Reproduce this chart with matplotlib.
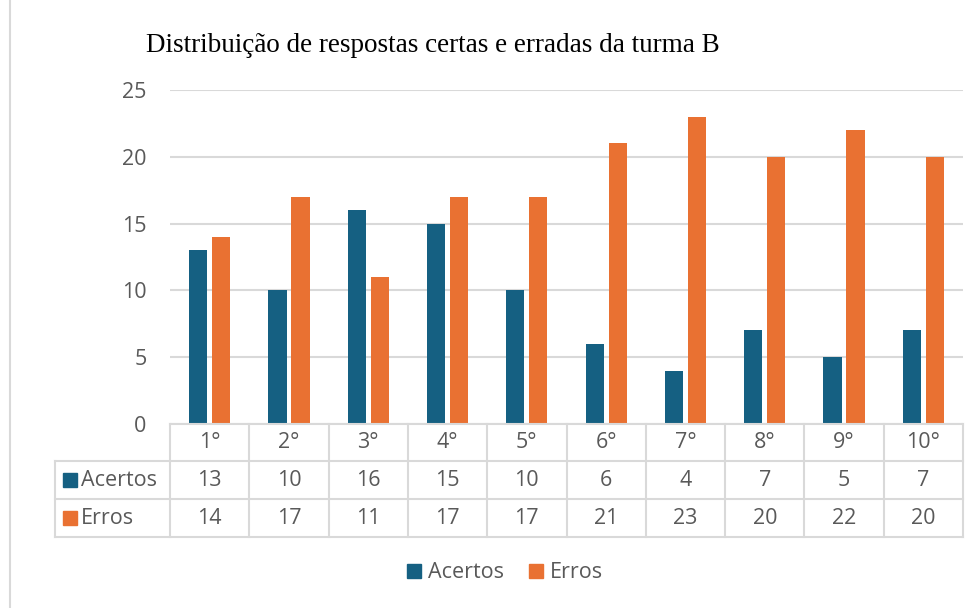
import matplotlib.pyplot as plt
from matplotlib.patches import Patch
from matplotlib.lines import Line2D
import matplotlib.transforms as mtransforms

# Data
categorias = ['1°', '2°', '3°', '4°', '5°', '6°', '7°', '8°', '9°', '10°']
acertos = [13, 10, 16, 15, 10, 6, 4, 7, 5, 7]
erros = [14, 17, 11, 17, 17, 21, 23, 20, 22, 20]
series = ['Acertos', 'Erros']

azul = '#156082'
laranja = '#E97132'
cinza_txt = '#595959'
cinza_lin = '#D9D9D9'

plt.rcParams['font.family'] = ['Open Sans', 'DejaVu Sans']
fs = 15.5

W, H = 978, 608
fig = plt.figure(figsize=(W / 100, H / 100), dpi=100)

# plot area in pixels: x 170..963, y 90..424 (top..bottom)
ax = fig.add_axes([170 / W, (H - 424) / H, 793 / W, 334 / H])

x = list(range(len(categorias)))
bw = 0.23
off = 0.145
ax.bar([i - off for i in x], acertos, width=bw, color=azul, label='Acertos', zorder=3)
ax.bar([i + off for i in x], erros, width=bw, color=laranja, label='Erros', zorder=3)

ax.set_xlim(-0.5, len(categorias) - 0.5)
ax.set_ylim(0, 25)
ax.set_yticks([0, 5, 10, 15, 20, 25])
ax.tick_params(axis='y', length=0, pad=17, labelsize=fs, labelcolor=cinza_txt)
ax.set_xticks([])
ax.grid(axis='y', color=cinza_lin, linewidth=1.5, zorder=0)
for s in ax.spines.values():
    s.set_visible(False)

# data table below the axes (x in data coords, y in figure pixels)
tr = mtransforms.blended_transform_factory(ax.transData, mtransforms.IdentityTransform())
def fy(py):
    return H - py

rows_y = [424, 461, 499, 537]
x_left = -0.5 - (170 - 55) / (793 / len(categorias))
x_right = len(categorias) - 0.5
lkw = dict(color=cinza_lin, linewidth=1.5, transform=tr, clip_on=False)

# horizontal lines
fig.add_artist(Line2D([-0.5, x_right], [fy(rows_y[0])] * 2, **lkw))
for py in rows_y[1:]:
    fig.add_artist(Line2D([x_left, x_right], [fy(py)] * 2, **lkw))
# vertical lines
fig.add_artist(Line2D([x_left, x_left], [fy(rows_y[1]), fy(rows_y[3])], **lkw))
for k in range(len(categorias) + 1):
    xv = k - 0.5
    fig.add_artist(Line2D([xv, xv], [fy(rows_y[0]), fy(rows_y[3])], **lkw))

tkw = dict(transform=tr, ha='center', va='center', fontsize=fs, color=cinza_txt)
for i, c in enumerate(categorias):
    fig.text(i, fy((rows_y[0] + rows_y[1]) / 2), c, **tkw)
    fig.text(i, fy((rows_y[1] + rows_y[2]) / 2), str(acertos[i]), **tkw)
    fig.text(i, fy((rows_y[2] + rows_y[3]) / 2), str(erros[i]), **tkw)

# row labels with colour keys
for r, (nome, cor) in enumerate(zip(series, [azul, laranja])):
    yc = (rows_y[r + 1] + rows_y[r + 2]) / 2
    fig.patches.append(plt.Rectangle((63, fy(yc) - 7), 14, 14, color=cor,
                                     transform=None, figure=fig))
    fig.text(81 / W, fy(yc) / H, nome, ha='left', va='center', fontsize=fs, color=cinza_txt)

# title
fig.text(146 / W, (H - 45) / H, 'Distribuição de respostas certas e erradas da turma B',
         ha='left', va='center', fontsize=19.5, family=['Liberation Serif', 'DejaVu Serif'],
         color='black')

# legend at bottom
handles = [Patch(color=azul, label='Acertos'), Patch(color=laranja, label='Erros')]
fig.legend(handles=handles, loc='center', bbox_to_anchor=(505 / W, (H - 573) / H),
           ncol=2, frameon=False, fontsize=fs, labelcolor=cinza_txt,
           handlelength=0.65, handleheight=0.65, handletextpad=0.3, columnspacing=1.2)

# chart area border (left edge visible)
fig.add_artist(Line2D([9.5 / W, 9.5 / W], [0, 1], color=cinza_lin, linewidth=1.5))

fig.savefig('out.png', dpi=100)
